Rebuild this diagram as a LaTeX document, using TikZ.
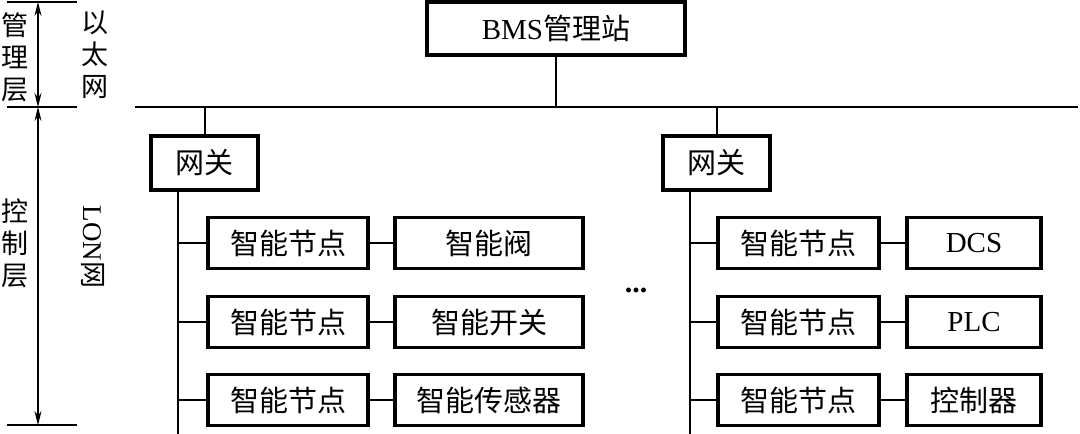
\documentclass[tikz,border=0pt]{standalone}
\usepackage{fontspec}
\setmainfont{Liberation Serif}
\newfontfamily\cjk{Noto Sans CJK SC}
\usetikzlibrary{arrows.meta}
\begin{document}
\begin{tikzpicture}[x=1pt,y=-1pt,
  box/.style={draw,line width=3.4pt,inner sep=0pt,minimum height=51pt,font=\fontsize{29}{32}\selectfont},
  wire/.style={line width=2pt},
  dim/.style={line width=1.4pt},
  dimarrow/.style={line width=1.2pt,{Stealth[length=14pt,width=7pt]}-{Stealth[length=14pt,width=7pt]}},
  vlabel/.style={align=center,font=\fontsize{27}{32}\selectfont\cjk,inner sep=0pt}]
\useasboundingbox (0,0) rectangle (1080,434);
% top station
\node[box,minimum width=258pt,minimum height=53pt] (bms) at (556,28.5) {BMS{\cjk 管理站}};
% ethernet bus
\coordinate (busL) at (135,107);
\coordinate (busR) at (1078,107);
\draw[wire] (busL) -- (busR);
\draw[wire] (bms.south) -- (bms.south |- busL);
% gateways
\node[box,minimum width=107pt,minimum height=54pt,font=\fontsize{29}{32}\selectfont\cjk] (gw1) at (204.5,163) {网关};
\node[box,minimum width=107pt,minimum height=54pt,font=\fontsize{29}{32}\selectfont\cjk] (gw2) at (716.5,163) {网关};
\draw[wire] (gw1.north) -- (gw1.north |- busL);
\draw[wire] (gw2.north) -- (gw2.north |- busL);
% trunks
\coordinate (t1) at (178,434);
\coordinate (t2) at (690,434);
\draw[wire] (t1 |- gw1.south) -- (t1);
\draw[wire] (t2 |- gw2.south) -- (t2);
% left branch
\foreach \i/\y/\d in {1/243/智能阀,2/322/智能开关,3/400/智能传感器}{
  \node[box,minimum width=160pt,font=\fontsize{29}{32}\selectfont\cjk] (ln\i) at (288,\y) {智能节点};
  \node[box,minimum width=188pt,font=\fontsize{29}{32}\selectfont\cjk] (ld\i) at (489,\y) {\d};
  \draw[wire] (ln\i.west -| t1) -- (ln\i.west);
  \draw[wire] (ln\i) -- (ld\i);
}
% right branch
\foreach \i/\y/\d in {1/243/DCS,2/322/PLC,3/400/{\cjk 控制器}}{
  \node[box,minimum width=161pt,font=\fontsize{29}{32}\selectfont\cjk] (rn\i) at (798.5,\y) {智能节点};
  \node[box,minimum width=134pt] (rd\i) at (974,\y) {\d};
  \draw[wire] (rn\i.west -| t2) -- (rn\i.west);
  \draw[wire] (rn\i) -- (rd\i);
}
\node[font=\fontsize{30}{32}\selectfont\bfseries] (dots) at (636,290) {...};
% left dimension
\coordinate (a0) at (7,2);   \coordinate (a0r) at (77,2);
\coordinate (a1) at (7,107); \coordinate (a1r) at (77,107);
\coordinate (a2) at (7,425); \coordinate (a2r) at (77,425);
\coordinate (v0) at (38,2); \coordinate (v1) at (38,107); \coordinate (v2) at (38,425);
\draw[dim] (a0) -- (a0r);
\draw[dim] (a1) -- (a1r);
\draw[dim] (a2) -- (a2r);
\draw[dimarrow] (v0) -- (v1);
\draw[dimarrow] (v1) -- (v2);
\node[vlabel] (mgmt) at (15,57) {管\\理\\层};
\node[vlabel] (eth) at (95,55) {以\\太\\网};
\node[vlabel] (ctrl) at (15,243) {控\\制\\层};
\node[inner sep=0pt,rotate=-90,font=\fontsize{27}{30}\selectfont] (lon) at (93,247) {LON{\cjk 网}};
\end{tikzpicture}
\end{document}
